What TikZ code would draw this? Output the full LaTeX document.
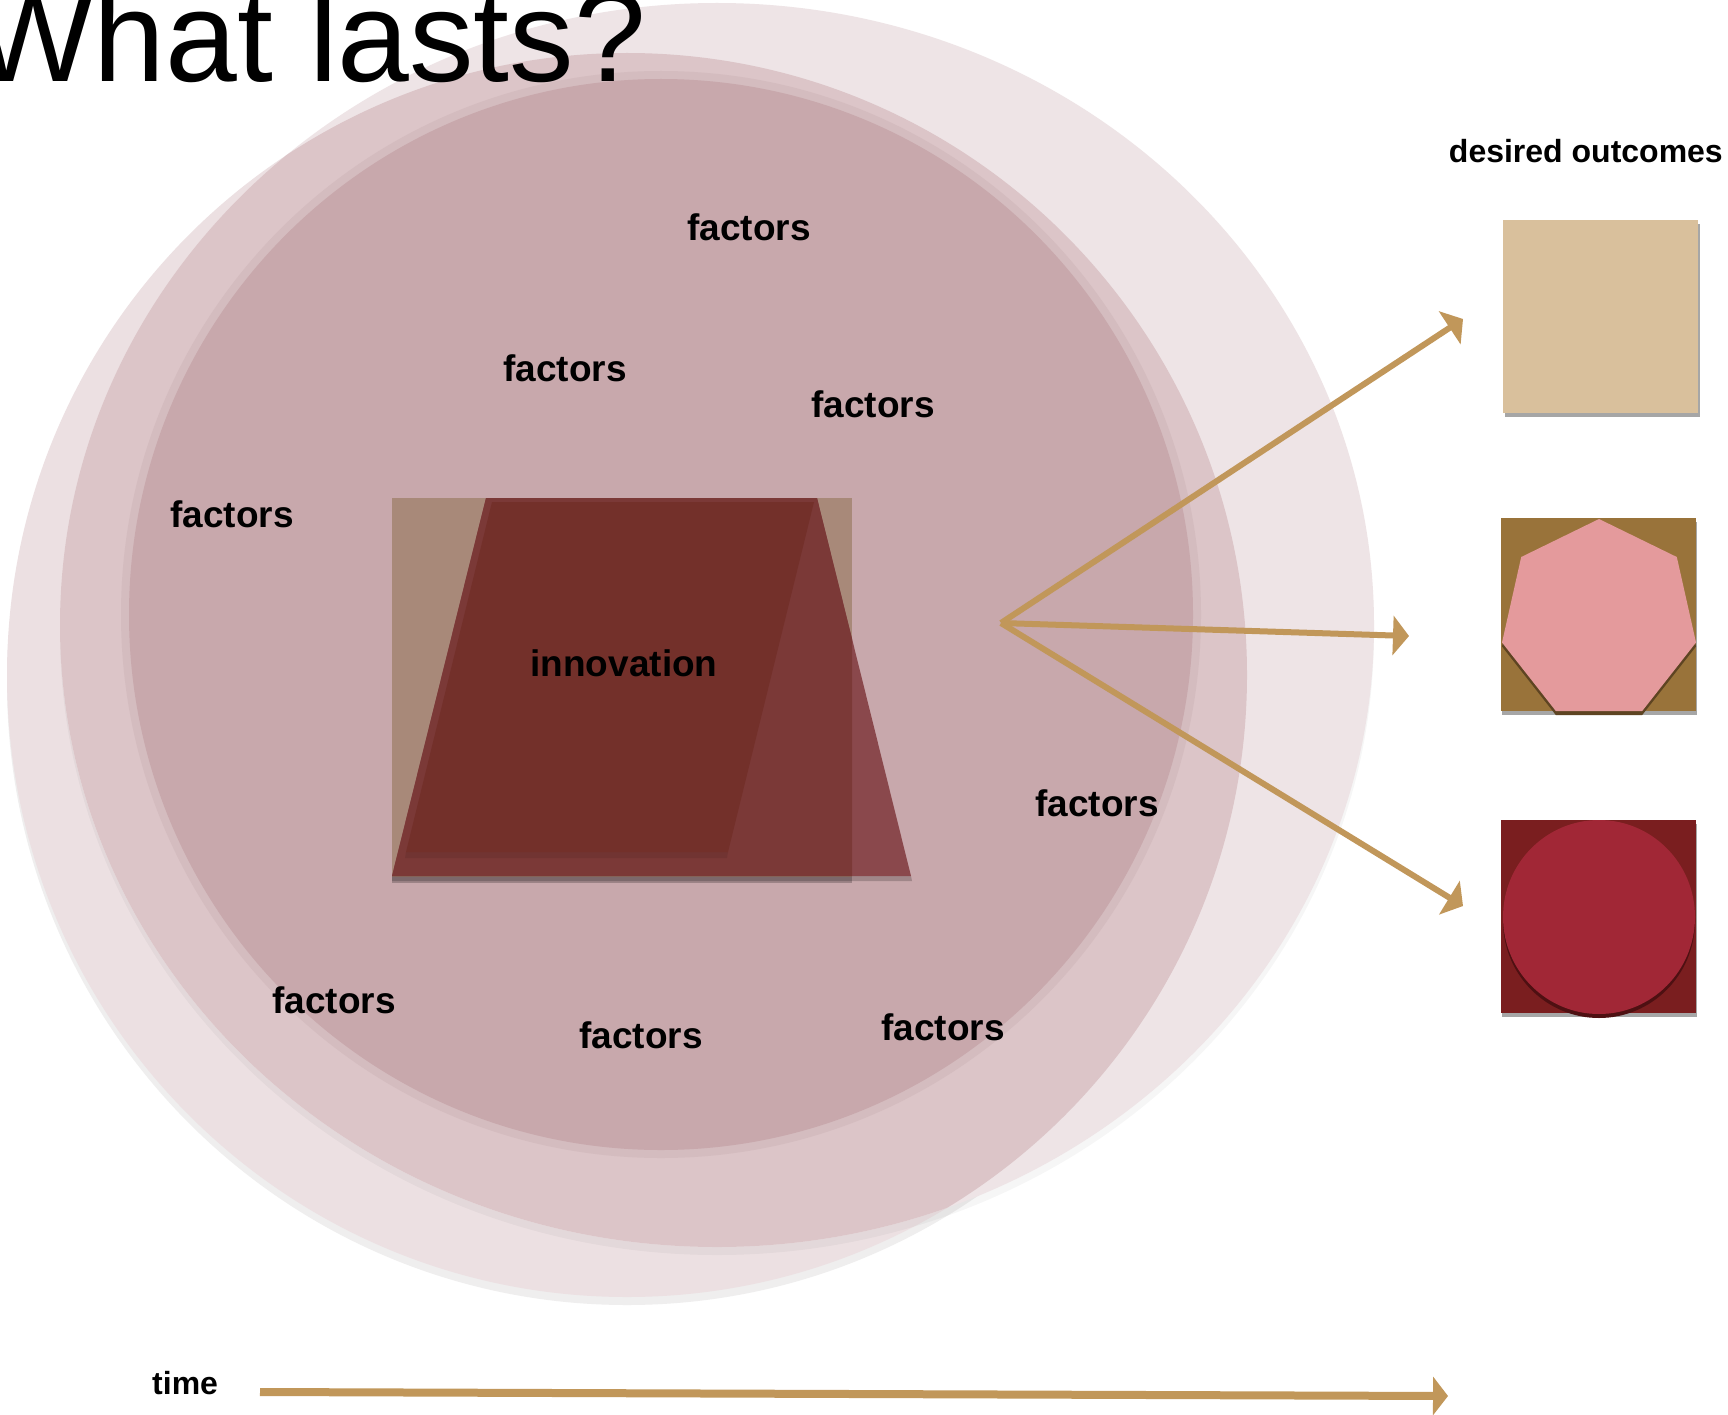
\documentclass[tikz,border=0pt]{standalone}
\usepackage{fontspec}
\setmainfont{Liberation Sans}
\usetikzlibrary{arrows.meta}
\definecolor{lightA}{HTML}{ECE0E2}
\definecolor{lightB}{HTML}{EEE4E6}
\definecolor{shadeA}{HTML}{EFEEEE}
\definecolor{mediumpink}{HTML}{DCC5C8}
\definecolor{halopink}{HTML}{D4BCBF}
\definecolor{innerpink}{HTML}{C8A8AC}
\definecolor{tanrect}{HTML}{A88979}
\definecolor{trapout}{HTML}{8A484C}
\definecolor{trapin}{HTML}{7B3937}
\definecolor{paracol}{HTML}{73302A}
\definecolor{gold}{HTML}{C1975A}
\definecolor{tanbox}{HTML}{D9C09C}
\definecolor{brownbox}{HTML}{99733A}
\definecolor{brownshadow}{HTML}{5E4422}
\definecolor{pinkhept}{HTML}{E49A9C}
\definecolor{redbox}{HTML}{7A1E1F}
\definecolor{reddisc}{HTML}{A12736}
\definecolor{redshadow}{HTML}{4E1012}
\definecolor{boxshadow}{HTML}{A6A6A6}
\begin{document}
\begin{tikzpicture}[x=1pt,y=-1pt,
  factor/.style={font=\bfseries\fontsize{37}{40}\selectfont, inner sep=0pt},
  smalllabel/.style={font=\bfseries\fontsize{32}{36}\selectfont, inner sep=0pt},
  goldarrow/.style={draw=gold, line width=6pt, -{Triangle[length=16pt,width=39pt]}},
  timearrow/.style={draw=gold, line width=8pt, -{Triangle[length=15pt,width=38pt]}},
  outbox/.style={minimum width=195pt, minimum height=193pt, inner sep=0pt, anchor=north west},
  ]
\useasboundingbox (0,0) rectangle (1728,1415);
\fill[white] (0,0) rectangle (1728,1415);

% two large overlapping ellipses; their overlap is the medium tone
\fill[shadeA] (627,683) ellipse [x radius=620pt, y radius=622pt];
\fill[lightA] (627,675) ellipse [x radius=620pt, y radius=622pt];
\fill[black, opacity=0.035] (717,633) ellipse [x radius=657pt, y radius=622pt];
\fill[lightB] (717,625) ellipse [x radius=657pt, y radius=622pt];
\begin{scope}
  \clip (627,675) ellipse [x radius=620pt, y radius=622pt];
  \fill[mediumpink] (717,625) ellipse [x radius=657pt, y radius=622pt];
\end{scope}
% inner ellipse
\fill[halopink] (661,614.5) ellipse [x radius=540pt, y radius=543.5pt];
\fill[innerpink] (661,614.5) ellipse [x radius=532pt, y radius=535.5pt];

% title
\node[anchor=base west, inner sep=0pt, font=\fontsize{129}{130}\selectfont] (title) at (-28,82) {What lasts?};

% innovation shapes
\fill[black, opacity=0.22] (392,503) rectangle (852,883);
\fill[tanrect] (392,498) rectangle (852,877);
\fill[black, opacity=0.2] (392,876) -- (911,876) -- (912,881) -- (392,881) -- cycle;
\fill[trapout] (486,498) -- (817,498) -- (911,876) -- (392,876) -- cycle;
\begin{scope}
  \clip (392,498) rectangle (852,877);
  \fill[trapin] (486,498) -- (817,498) -- (911,876) -- (392,876) -- cycle;
\end{scope}
\fill[black, opacity=0.08] (406,852) -- (728,852) -- (727,858) -- (405,858) -- cycle;
\fill[paracol] (492,502) -- (814,502) -- (728,852) -- (406,852) -- cycle;
\node[factor] (innov) at (624,663) {innovation};

% factors
\node[factor] (f1) at (749,227) {factors};
\node[factor] (f2) at (565,368) {factors};
\node[factor] (f3) at (873,404) {factors};
\node[factor] (f4) at (232,514) {factors};
\node[factor] (f5) at (1097,803) {factors};
\node[factor] (f6) at (334,1000) {factors};
\node[factor] (f7) at (641,1035) {factors};
\node[factor] (f8) at (943,1027) {factors};

% arrows to outcomes
\coordinate (hub) at (1001,623);
\coordinate (tipA) at (1463,319);
\coordinate (tipB) at (1409,636);
\coordinate (tipC) at (1463,906);
\draw[goldarrow] (hub) -- (tipA);
\draw[goldarrow] (hub) -- (tipB);
\draw[goldarrow] (hub) -- (tipC);

% desired outcomes
\node[smalllabel, anchor=base east] (desired) at (1723,163) {desired outcomes};

\node[outbox, fill=boxshadow] (out1s) at (1505,224) {};
\node[outbox, fill=tanbox] (out1) at (1503,220) {};

\node[outbox, fill=boxshadow] (out2s) at (1502,522) {};
\node[outbox, fill=brownbox] (out2) at (1501,518) {};
\fill[brownshadow] (1599,523) -- (1676.8,561) -- (1696,646.5) -- (1642.2,715) -- (1555.8,715) -- (1502,646.5) -- (1521.2,561) -- cycle;
\fill[pinkhept] (1599,519) -- (1676.8,557) -- (1696,642.5) -- (1642.2,711) -- (1555.8,711) -- (1502,642.5) -- (1521.2,557) -- cycle;

\node[outbox, fill=boxshadow] (out3s) at (1502,824) {};
\node[outbox, fill=redbox] (out3) at (1501,820) {};
\fill[redshadow] (1599,921) ellipse [x radius=96pt, y radius=97pt];
\fill[reddisc] (1599,917) ellipse [x radius=96pt, y radius=97pt];

% time axis
\node[smalllabel, anchor=base west] (time) at (152,1394) {time};
\coordinate (tstart) at (260,1392);
\coordinate (tend) at (1448,1396);
\draw[timearrow] (tstart) -- (tend);
\end{tikzpicture}
\end{document}
